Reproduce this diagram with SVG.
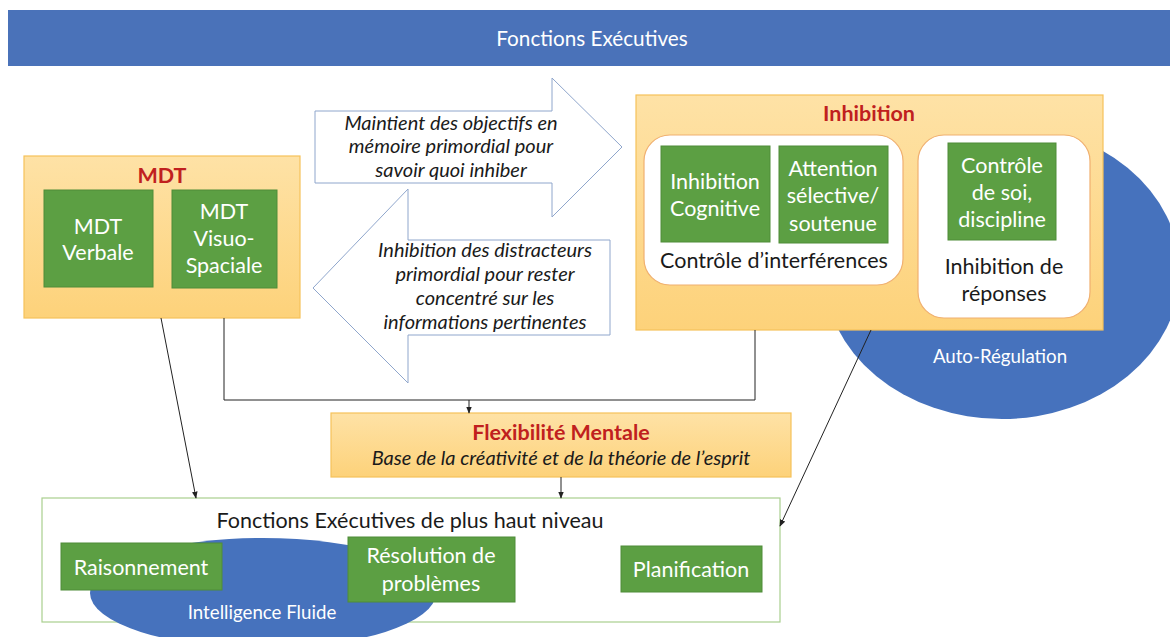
<svg xmlns="http://www.w3.org/2000/svg" width="1170" height="637" viewBox="0 0 1170 637">
<defs>
<linearGradient id="gold" x1="0" y1="0" x2="0" y2="1">
<stop offset="0" stop-color="#fee2a6"/>
<stop offset="1" stop-color="#fdd27a"/>
</linearGradient>
<marker id="ah" viewBox="0 0 10 10" refX="9" refY="5" markerWidth="7" markerHeight="7" orient="auto" markerUnits="userSpaceOnUse">
<path d="M0,1 L10,5 L0,9 z" fill="#222"/>
</marker>
</defs>
<style>
text{font-family:Lato,"Open Sans","Noto Sans",sans-serif;text-anchor:middle}
.gold{fill:url(#gold);stroke:#f5c25a;stroke-width:1.2}
.green{fill:#5c9f43;stroke:#4f8c38;stroke-width:1}
.gt{fill:#ffffff;font-size:21.5px}
.bt{fill:#1a1a1a;font-size:21.5px}
.red{fill:#c0201e;font-size:21.5px;font-weight:bold}
.it{fill:#1a1a1a;font-size:20px;font-style:italic}
.inner{fill:#ffffff;stroke:#f0b070;stroke-width:1.2}
.arrow{fill:#ffffff;stroke:#8fa6cc;stroke-width:1}
.blue{fill:#4672bd}
.wt{fill:#ffffff;font-size:18.7px}
.con{fill:none;stroke:#222;stroke-width:1}
</style>

<g id="banner">
<rect x="8" y="10" width="1162" height="56" fill="#4a72b9"/>
<text x="592" y="46" fill="#ffffff" font-size="20.7">Fonctions Exécutives</text>
</g>

<g id="auto-regulation">
<ellipse cx="1002" cy="272" rx="178" ry="147" class="blue"/>
<text x="1000" y="363" class="wt">Auto-Régulation</text>
</g>

<g id="arrow-right">
<polygon class="arrow" points="315,111 552,111 552,78 622,147 552,217 552,183 315,183"/>
<text class="it" x="451" y="130">Maintient des objectifs en</text>
<text class="it" x="451" y="153">mémoire primordial pour</text>
<text class="it" x="451" y="177">savoir quoi inhiber</text>
</g>

<g id="arrow-left">
<polygon class="arrow" points="610,240 408,240 408,189 313,288 408,383 408,335 610,335"/>
<text class="it" x="485" y="257">Inhibition des distracteurs</text>
<text class="it" x="485" y="281">primordial pour rester</text>
<text class="it" x="485" y="305">concentré sur les</text>
<text class="it" x="485" y="329">informations pertinentes</text>
</g>

<g id="mdt">
<rect x="24" y="156" width="276" height="162" class="gold"/>
<text x="162" y="183" class="red">MDT</text>
<g id="mdt-verbale">
<rect x="44" y="190" width="109" height="97" class="green"/>
<text class="gt" x="98" y="234">MDT</text>
<text class="gt" x="98" y="260">Verbale</text>
</g>
<g id="mdt-visuo">
<rect x="172" y="190" width="105" height="98" class="green"/>
<text class="gt" x="224" y="219">MDT</text>
<text class="gt" x="224" y="246">Visuo-</text>
<text class="gt" x="224" y="273">Spaciale</text>
</g>
</g>

<g id="inhibition">
<rect x="636" y="95" width="467" height="235" class="gold"/>
<text x="869" y="121" class="red">Inhibition</text>
<g id="controle-interferences">
<rect x="644" y="135" width="259" height="150" rx="26" class="inner"/>
<text class="bt" x="774" y="268">Contrôle d’interférences</text>
</g>
<g id="inhibition-cognitive">
<rect x="661" y="146" width="109" height="96" class="green"/>
<text class="gt" x="715" y="189">Inhibition</text>
<text class="gt" x="715" y="216">Cognitive</text>
</g>
<g id="attention">
<rect x="779" y="146" width="109" height="97" class="green"/>
<text class="gt" x="833" y="176">Attention</text>
<text class="gt" x="833" y="203">sélective/</text>
<text class="gt" x="833" y="231">soutenue</text>
</g>
<g id="inhibition-reponses">
<rect x="918" y="135" width="172" height="183" rx="26" class="inner"/>
<text class="bt" x="1004" y="274">Inhibition de</text>
<text class="bt" x="1004" y="301">réponses</text>
</g>
<g id="controle-soi">
<rect x="948" y="143" width="108" height="97" class="green"/>
<text class="gt" x="1002" y="173">Contrôle</text>
<text class="gt" x="1002" y="200">de soi,</text>
<text class="gt" x="1002" y="227">discipline</text>
</g>
</g>

<g id="flexibilite">
<rect x="331" y="413" width="460" height="64" class="gold"/>
<text x="561" y="440" class="red">Flexibilité Mentale</text>
<text x="561" y="465" class="it">Base de la créativité et de la théorie de l’esprit</text>
</g>

<g id="fe-haut-niveau">
<rect x="42" y="498" width="738" height="124" fill="#ffffff" stroke="#a9cf8e" stroke-width="1.2"/>
<text class="bt" x="410" y="528">Fonctions Exécutives de plus haut niveau</text>
<g id="intelligence-fluide">
<ellipse cx="263" cy="593" rx="173" ry="55" class="blue"/>
<text class="wt" x="262" y="619">Intelligence Fluide</text>
</g>
<g id="raisonnement">
<rect x="61" y="543" width="161" height="47" class="green"/>
<text class="gt" x="141" y="575">Raisonnement</text>
</g>
<g id="resolution">
<rect x="348" y="537" width="167" height="65" class="green"/>
<text class="gt" x="431" y="563">Résolution de</text>
<text class="gt" x="431" y="591">problèmes</text>
</g>
<g id="planification">
<rect x="621" y="546" width="141" height="46" class="green"/>
<text class="gt" x="691" y="577">Planification</text>
</g>
</g>

<g id="connectors">
<line class="con" x1="161" y1="318" x2="196" y2="498" marker-end="url(#ah)"/>
<polyline class="con" points="224,318 224,400 755,400 755,330"/>
<line class="con" x1="469" y1="400" x2="469" y2="413" marker-end="url(#ah)"/>
<line class="con" x1="561" y1="477" x2="561" y2="498" marker-end="url(#ah)"/>
<line class="con" x1="871" y1="330" x2="780" y2="526" marker-end="url(#ah)"/>
</g>
</svg>
